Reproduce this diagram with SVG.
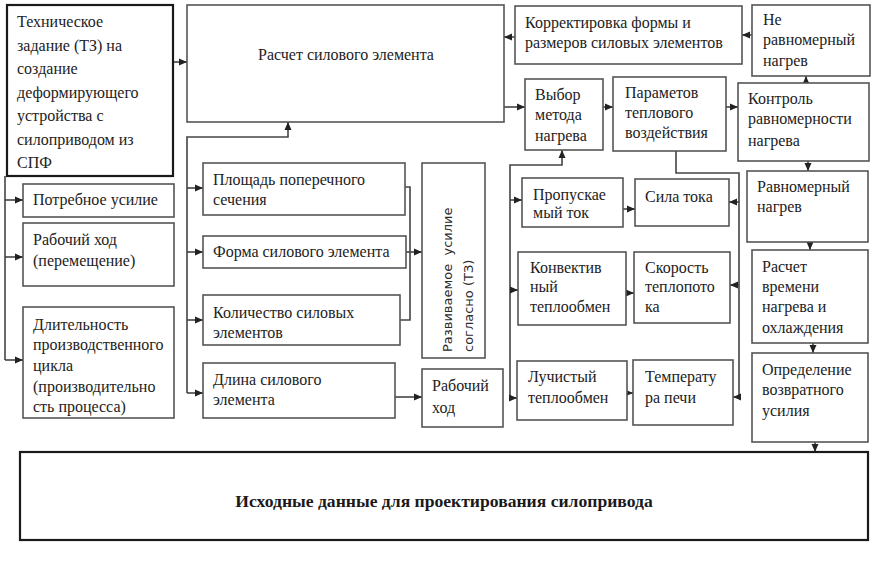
<svg xmlns="http://www.w3.org/2000/svg" width="876" height="561" viewBox="0 0 876 561">
<style>
.b{fill:#fff;stroke:#555;stroke-width:1.6}
.k{fill:#fff;stroke:#1a1a1a;stroke-width:2.2}
.t{font-family:'Liberation Serif','DejaVu Serif',serif;font-size:16px;fill:#222}
.tb{font-family:'Liberation Serif','DejaVu Serif',serif;font-size:17.6px;font-weight:bold;fill:#1a1a1a}
.ts{font-family:'DejaVu Sans',sans-serif;font-size:13px;fill:#2b2b2b}
.c{fill:none;stroke:#444;stroke-width:1.6}
</style>
<defs>
<marker id="a" viewBox="0 0 8 8" refX="8" refY="4" markerWidth="8" markerHeight="8" markerUnits="userSpaceOnUse" orient="auto">
<path d="M0,0.5 L8,4 L0,7.5 Z" fill="#222"/>
</marker>
</defs>
<rect width="876" height="561" fill="#fff"/>

<g id="connectors">
<path class="c" d="M173,62 H187" marker-end="url(#a)"/>
<path class="c" d="M5,176 V360"/>
<path class="c" d="M5,200 H23" marker-end="url(#a)"/>
<path class="c" d="M5,257 H23" marker-end="url(#a)"/>
<path class="c" d="M5,360 H23" marker-end="url(#a)"/>
<path class="c" d="M187,393 V137 H288 V122" marker-end="url(#a)"/>
<path class="c" d="M187,188 H203" marker-end="url(#a)"/>
<path class="c" d="M187,252 H203" marker-end="url(#a)"/>
<path class="c" d="M187,320 H203" marker-end="url(#a)"/>
<path class="c" d="M187,393 H203" marker-end="url(#a)"/>
<path class="c" d="M405,187 H410 V320 H400"/>
<path class="c" d="M406,252 H422" marker-end="url(#a)"/>
<path class="c" d="M395,397 H422" marker-end="url(#a)"/>
<path class="c" d="M515,37 H504" marker-end="url(#a)"/>
<path class="c" d="M752,35 H742" marker-end="url(#a)"/>
<path class="c" d="M504,107 H525" marker-end="url(#a)"/>
<path class="c" d="M603,107 H613" marker-end="url(#a)"/>
<path class="c" d="M726,107 H738" marker-end="url(#a)"/>
<path class="c" d="M806,83 V76" marker-end="url(#a)"/>
<path class="c" d="M808,161 V171" marker-end="url(#a)"/>
<path class="c" d="M510,398 V165 H562 V150" marker-end="url(#a)"/>
<path class="c" d="M510,200 H522" marker-end="url(#a)"/>
<path class="c" d="M510,290 H518" marker-end="url(#a)"/>
<path class="c" d="M510,398 H517" marker-end="url(#a)"/>
<path class="c" d="M623,209 H635" marker-end="url(#a)"/>
<path class="c" d="M626,293 H634" marker-end="url(#a)"/>
<path class="c" d="M627,393 H633" marker-end="url(#a)"/>
<path class="c" d="M676,151 V173 H739 V397 H733" marker-end="url(#a)"/>
<path class="c" d="M739,202 H729" marker-end="url(#a)"/>
<path class="c" d="M739,285 H730" marker-end="url(#a)"/>
<path class="c" d="M810,242 V250" marker-end="url(#a)"/>
<path class="c" d="M813,343 V353" marker-end="url(#a)"/>
<path class="c" d="M815,442 V452" marker-end="url(#a)"/>
</g>

<g id="tz">
<rect class="k" x="7" y="5" width="166" height="171"/>
<text class="t" x="17" y="27">Техническое</text>
<text class="t" x="17" y="51">задание (ТЗ) на</text>
<text class="t" x="17" y="74">создание</text>
<text class="t" x="17" y="98">деформирующего</text>
<text class="t" x="17" y="121">устройства с</text>
<text class="t" x="17" y="145">силоприводом из</text>
<text class="t" x="17" y="168">СПФ</text>
</g>

<g id="raschet">
<rect class="b" x="187" y="5" width="317" height="117"/>
<text class="t" x="346" y="60" text-anchor="middle">Расчет силового элемента</text>
</g>

<g id="potrebnoe">
<rect class="b" x="23" y="184" width="151" height="33"/>
<text class="t" x="33" y="205">Потребное усилие</text>
</g>

<g id="rabochiy-peremeshenie">
<rect class="b" x="23" y="223" width="151" height="63"/>
<text class="t" x="33" y="245">Рабочий ход</text>
<text class="t" x="33" y="266">(перемещение)</text>
</g>

<g id="dlitelnost">
<rect class="b" x="23" y="307" width="151" height="111"/>
<text class="t" x="33" y="330">Длительность</text>
<text class="t" x="33" y="350">производственного</text>
<text class="t" x="33" y="371">цикла</text>
<text class="t" x="33" y="392">(производительно</text>
<text class="t" x="33" y="412">сть процесса)</text>
</g>

<g id="ploshad">
<rect class="b" x="203" y="163" width="202" height="52"/>
<text class="t" x="213" y="185">Площадь поперечного</text>
<text class="t" x="213" y="205">сечения</text>
</g>

<g id="forma">
<rect class="b" x="203" y="236" width="203" height="32"/>
<text class="t" x="213" y="257">Форма силового элемента</text>
</g>

<g id="kolichestvo">
<rect class="b" x="203" y="295" width="197" height="50"/>
<text class="t" x="213" y="318">Количество силовых</text>
<text class="t" x="213" y="338">элементов</text>
</g>

<g id="dlina">
<rect class="b" x="203" y="363" width="192" height="55"/>
<text class="t" x="213" y="385">Длина силового</text>
<text class="t" x="213" y="405">элемента</text>
</g>

<g id="razvivaemoe">
<rect class="b" x="422" y="163" width="63" height="195"/>
<text class="ts" transform="translate(452,352) rotate(-90)" xml:space="preserve">Развиваемое  усилие</text>
<text class="ts" transform="translate(473,352) rotate(-90)">согласно (ТЗ)</text>
</g>

<g id="rabochiy">
<rect class="b" x="422" y="369" width="81" height="58"/>
<text class="t" x="432" y="391">Рабочий</text>
<text class="t" x="432" y="413">ход</text>
</g>

<g id="korrektirovka">
<rect class="b" x="515" y="6" width="227" height="58"/>
<text class="t" x="525" y="28">Корректировка формы и</text>
<text class="t" x="525" y="48">размеров силовых элементов</text>
</g>

<g id="neravnomerny">
<rect class="b" x="752" y="5" width="118" height="71"/>
<text class="t" x="763" y="25">Не</text>
<text class="t" x="763" y="45">равномерный</text>
<text class="t" x="763" y="66">нагрев</text>
</g>

<g id="vybor">
<rect class="b" x="525" y="79" width="78" height="71"/>
<text class="t" x="535" y="100">Выбор</text>
<text class="t" x="535" y="120">метода</text>
<text class="t" x="535" y="141">нагрева</text>
</g>

<g id="parametov">
<rect class="b" x="613" y="77" width="113" height="74"/>
<text class="t" x="625" y="98">Параметов</text>
<text class="t" x="625" y="118">теплового</text>
<text class="t" x="625" y="138">воздействия</text>
</g>

<g id="kontrol">
<rect class="b" x="738" y="83" width="131" height="78"/>
<text class="t" x="748" y="104">Контроль</text>
<text class="t" x="748" y="124">равномерности</text>
<text class="t" x="748" y="146">нагрева</text>
</g>

<g id="propuskaemy">
<rect class="b" x="522" y="178" width="101" height="49"/>
<text class="t" x="533" y="200">Пропускае</text>
<text class="t" x="533" y="218">мый ток</text>
</g>

<g id="sila-toka">
<rect class="b" x="635" y="179" width="94" height="47"/>
<text class="t" x="645" y="202">Сила тока</text>
</g>

<g id="konvektivny">
<rect class="b" x="518" y="252" width="108" height="73"/>
<text class="t" x="530" y="273">Конвектив</text>
<text class="t" x="530" y="292">ный</text>
<text class="t" x="530" y="312">теплообмен</text>
</g>

<g id="skorost">
<rect class="b" x="634" y="252" width="96" height="71"/>
<text class="t" x="645" y="273">Скорость</text>
<text class="t" x="645" y="292">теплопото</text>
<text class="t" x="645" y="312">ка</text>
</g>

<g id="luchisty">
<rect class="b" x="517" y="361" width="110" height="59"/>
<text class="t" x="528" y="382">Лучистый</text>
<text class="t" x="528" y="403">теплообмен</text>
</g>

<g id="temperatura">
<rect class="b" x="633" y="360" width="100" height="65"/>
<text class="t" x="645" y="382">Температу</text>
<text class="t" x="645" y="403">ра печи</text>
</g>

<g id="ravnomerny">
<rect class="b" x="747" y="171" width="121" height="71"/>
<text class="t" x="757" y="192">Равномерный</text>
<text class="t" x="757" y="212">нагрев</text>
</g>

<g id="raschet-vremeni">
<rect class="b" x="752" y="250" width="116" height="93"/>
<text class="t" x="762" y="272">Расчет</text>
<text class="t" x="762" y="292">времени</text>
<text class="t" x="762" y="312">нагрева и</text>
<text class="t" x="762" y="333">охлаждения</text>
</g>

<g id="opredelenie">
<rect class="b" x="752" y="353" width="116" height="89"/>
<text class="t" x="762" y="375">Определение</text>
<text class="t" x="762" y="395">возвратного</text>
<text class="t" x="762" y="416">усилия</text>
</g>

<g id="ishodnye">
<rect class="k" x="20" y="452" width="848" height="88"/>
<text class="tb" x="444" y="507" text-anchor="middle">Исходные данные для проектирования силопривода</text>
</g>
</svg>
